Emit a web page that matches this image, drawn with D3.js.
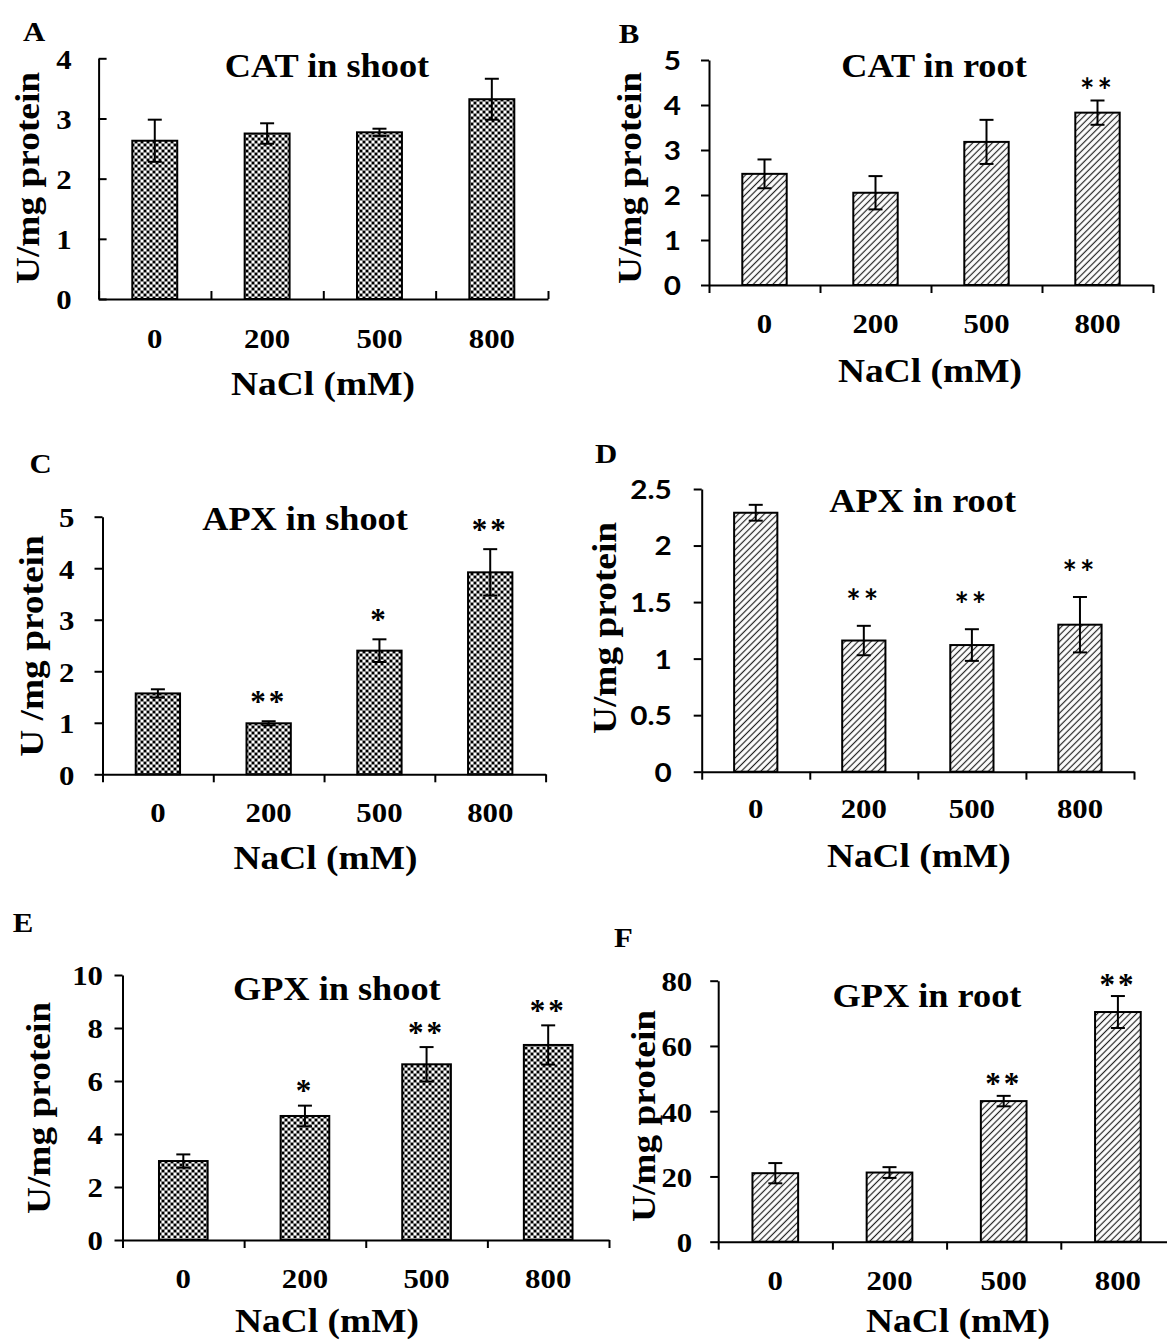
<!DOCTYPE html>
<html>
<head>
<meta charset="utf-8">
<script src="https://cdn.jsdelivr.net/npm/d3@7"></script>
<style>
body { margin: 0; background: #fff; }
svg text { font-weight: bold; fill: #000; }
</style>
</head>
<body>
<svg id="fig" width="1167" height="1342"></svg>
<script>
"use strict";

// NaCl concentrations (mM)
var categories = ["0", "200", "500", "800"];

// CAT activity
var catShootMean = [2.63, 2.75, 2.77, 3.32];
var catShootErr = [0.35, 0.17, 0.06, 0.34];
var catShootStars = ["", "", "", ""];
var catRootMean = [2.47, 2.05, 3.18, 3.83];
var catRootErr = [0.32, 0.37, 0.49, 0.27];
var catRootStars = ["", "", "", "**"];

// APX activity
var apxShootMean = [1.57, 0.99, 2.40, 3.92];
var apxShootErr = [0.08, 0.04, 0.22, 0.45];
var apxShootStars = ["", "**", "*", "**"];
var apxRootMean = [2.29, 1.16, 1.12, 1.30];
var apxRootErr = [0.07, 0.13, 0.14, 0.245];
var apxRootStars = ["", "**", "**", "**"];

// GPX activity
var gpxShootMean = [2.98, 4.68, 6.63, 7.36];
var gpxShootErr = [0.25, 0.39, 0.65, 0.74];
var gpxShootStars = ["", "*", "**", "**"];
var gpxRootMean = [21.0, 21.2, 43.1, 70.4];
var gpxRootErr = [3.1, 1.65, 1.6, 4.9];
var gpxRootStars = ["", "", "**", "**"];

// y tick values
var ticksA = [0, 1, 2, 3, 4];
var ticksB = [0, 1, 2, 3, 4, 5];
var ticksC = [0, 1, 2, 3, 4, 5];
var ticksD = [0, 0.5, 1, 1.5, 2, 2.5];
var ticksE = [0, 2, 4, 6, 8, 10];
var ticksF = [0, 20, 40, 60, 80];

var SERIF = "'Liberation Serif', 'Times New Roman', serif";
var SANS = "Lato, Carlito, Calibri, sans-serif";
var STRETCH = 1.1; // the source figure's text is a little wider than plain Times

var panels = [
    { id: "A", title: "CAT in shoot", ylab: "U/mg protein", mean: catShootMean, err: catShootErr,
      stars: catShootStars, ticks: ticksA, pattern: "checker", tickFont: SERIF, tickIn: true,
      left: 98.6, right: 548, bottom: 299, top: 58.3, yGap: 27, xGap: 39,
      title_xy: [327, 65], xt_xy: [323, 383], yt_xy: [27, 178], id_xy: [34, 31], starGap: 20, starFont: SERIF },
    { id: "B", title: "CAT in root", ylab: "U/mg protein", mean: catRootMean, err: catRootErr,
      stars: catRootStars, ticks: ticksB, pattern: "hatch", tickFont: SANS, tickIn: false,
      left: 709, right: 1153, bottom: 285, top: 60, yGap: 28, xGap: 38,
      title_xy: [934, 65], xt_xy: [930, 370], yt_xy: [629, 178], id_xy: [629, 33], starGap: 13, starFont: SANS },
    { id: "C", title: "APX in shoot", ylab: "U /mg protein", mean: apxShootMean, err: apxShootErr,
      stars: apxShootStars, ticks: ticksC, pattern: "checker", tickFont: SERIF, tickIn: false,
      left: 102.5, right: 545.6, bottom: 774.3, top: 516.7, yGap: 28, xGap: 38,
      title_xy: [305, 518], xt_xy: [325.5, 857], yt_xy: [31.4, 646], id_xy: [40.7, 463], starGap: 24, starFont: SERIF },
    { id: "D", title: "APX in root", ylab: "U/mg protein", mean: apxRootMean, err: apxRootErr,
      stars: apxRootStars, ticks: ticksD, pattern: "hatch", tickFont: SANS, tickIn: false,
      left: 701.7, right: 1134, bottom: 771.7, top: 489, yGap: 30, xGap: 36,
      title_xy: [922.6, 500], xt_xy: [918.8, 855], yt_xy: [604.3, 628], id_xy: [606, 453], starGap: 28, starFont: SANS },
    { id: "E", title: "GPX in shoot", ylab: "U/mg protein", mean: gpxShootMean, err: gpxShootErr,
      stars: gpxShootStars, ticks: ticksE, pattern: "checker", tickFont: SERIF, tickIn: false,
      left: 122.5, right: 609, bottom: 1240, top: 975, yGap: 19.5, xGap: 38,
      title_xy: [336.8, 988], xt_xy: [327, 1320], yt_xy: [38, 1108], id_xy: [23, 922], starGap: 19, starFont: SERIF },
    { id: "F", title: "GPX in root", ylab: "U/mg protein", mean: gpxRootMean, err: gpxRootErr,
      stars: gpxRootStars, ticks: ticksF, pattern: "hatch", tickFont: SERIF, tickIn: false,
      left: 718.2, right: 1175, bottom: 1241.7, top: 980.7, yGap: 26, xGap: 38,
      title_xy: [927, 995], xt_xy: [958, 1320], yt_xy: [643.4, 1116], id_xy: [623.5, 937], starGap: 16, starFont: SERIF }
];

var svg = d3.select("#fig");
svg.append("rect").attr("width", 1167).attr("height", 1342).attr("fill", "#fff");

var defs = svg.append("defs");
var chk = defs.append("pattern").attr("id", "checker")
    .attr("patternUnits", "userSpaceOnUse").attr("width", 6).attr("height", 6);
chk.append("rect").attr("width", 6).attr("height", 6).attr("fill", "#8c8c8c");
chk.append("rect").attr("x", 0).attr("y", 0).attr("width", 2).attr("height", 2).attr("fill", "#000");
chk.append("rect").attr("x", 3).attr("y", 3).attr("width", 2).attr("height", 2).attr("fill", "#000");
chk.append("rect").attr("x", 3).attr("y", 0).attr("width", 2).attr("height", 2).attr("fill", "#fff");
chk.append("rect").attr("x", 0).attr("y", 3).attr("width", 2).attr("height", 2).attr("fill", "#fff");

var hatch = defs.append("pattern").attr("id", "hatch")
    .attr("patternUnits", "userSpaceOnUse").attr("width", 4.6).attr("height", 4.6)
    .attr("patternTransform", "rotate(45)");
hatch.append("rect").attr("width", 4.6).attr("height", 4.6).attr("fill", "#fff");
hatch.append("line").attr("x1", 2.3).attr("y1", 0).attr("x2", 2.3).attr("y2", 4.6)
    .attr("stroke", "#222").attr("stroke-width", 1.2);

function addText(g, x, y, str, size, font, rotate) {
    return g.append("text")
        .attr("transform", "translate(" + x + "," + y + ")" + (rotate ? " rotate(-90)" : "") +
              " scale(" + STRETCH + ",1)")
        .attr("text-anchor", "middle")
        .attr("dy", "0.35em")
        .style("font-family", font)
        .style("font-size", size + "px")
        .text(str);
}

function drawPanel(p) {
    var g = svg.append("g").attr("class", "panel-" + p.id);
    var x = d3.scaleBand().domain(categories).range([p.left, p.right])
        .paddingInner(0.6).paddingOuter(0.3);
    var xEdge = d3.scaleLinear().domain([0, categories.length]).range([p.left, p.right]);
    var y = d3.scaleLinear().domain([0, d3.max(p.ticks)]).range([p.bottom, p.top]);
    var cx = function (i) { return x(categories[i]) + x.bandwidth() / 2; };

    // bars
    g.selectAll("rect.bar").data(p.mean).enter().append("rect")
        .attr("class", "bar")
        .attr("x", function (d, i) { return x(categories[i]); })
        .attr("width", x.bandwidth())
        .attr("y", function (d) { return y(d); })
        .attr("height", function (d) { return y(0) - y(d); })
        .attr("fill", "url(#" + p.pattern + ")")
        .attr("stroke", "#000").attr("stroke-width", 2);

    // error bars
    var eb = g.selectAll("g.err").data(p.mean).enter().append("g").attr("class", "err");
    eb.append("line")
        .attr("x1", function (d, i) { return cx(i); })
        .attr("x2", function (d, i) { return cx(i); })
        .attr("y1", function (d, i) { return y(d - p.err[i]); })
        .attr("y2", function (d, i) { return y(d + p.err[i]); });
    eb.append("line")
        .attr("x1", function (d, i) { return cx(i) - 7; })
        .attr("x2", function (d, i) { return cx(i) + 7; })
        .attr("y1", function (d, i) { return y(d + p.err[i]); })
        .attr("y2", function (d, i) { return y(d + p.err[i]); });
    eb.append("line")
        .attr("x1", function (d, i) { return cx(i) - 7; })
        .attr("x2", function (d, i) { return cx(i) + 7; })
        .attr("y1", function (d, i) { return y(d - p.err[i]); })
        .attr("y2", function (d, i) { return y(d - p.err[i]); });
    eb.selectAll("line").attr("stroke", "#000").attr("stroke-width", 2);

    // significance stars
    var sSize = p.starFont === SANS ? 34 : 31;
    g.selectAll("text.star").data(p.stars).enter().append("text")
        .attr("class", "star")
        .attr("x", function (d, i) { return cx(i); })
        .attr("y", function (d, i) {
            return y(p.mean[i] + p.err[i]) - p.starGap + 0.47 * sSize;
        })
        .attr("text-anchor", "middle")
        .style("font-family", p.starFont)
        .style("font-size", sSize + "px")
        .style("letter-spacing", "3px")
        .text(function (d) { return d; });

    // y axis
    var tick = p.tickIn ? -8 : 8;
    var yAxis = d3.axisLeft(y).tickValues(p.ticks).tickSizeInner(tick).tickSizeOuter(0)
        .tickFormat(function (d) { return String(d); });
    var gy = g.append("g").attr("transform", "translate(" + p.left + ",0)").call(yAxis);
    gy.selectAll("text")
        .attr("x", null).attr("dy", "0.35em")
        .attr("transform", "translate(" + (-p.yGap) + ",0) scale(" + STRETCH + ",1)")
        .style("font-family", p.tickFont)
        .style("font-size", (p.tickFont === SANS ? 27 : 28) + "px");

    // x axis: ticks on category edges, labels on centres
    var xAxisTicks = d3.axisBottom(xEdge).tickValues(d3.range(categories.length + 1))
        .tickSizeInner(tick).tickSizeOuter(0).tickFormat("");
    g.append("g").attr("transform", "translate(0," + p.bottom + ")").call(xAxisTicks);
    var xAxisLabels = d3.axisBottom(x).tickSize(0);
    var gl = g.append("g").attr("transform", "translate(0," + p.bottom + ")").call(xAxisLabels);
    gl.select(".domain").remove();
    gl.selectAll("text")
        .attr("y", null).attr("dy", "0.35em")
        .attr("transform", "translate(0," + p.xGap + ") scale(" + STRETCH + ",1)")
        .style("font-family", SERIF).style("font-size", "28px");

    g.selectAll(".domain, .tick line").attr("stroke", "#000").attr("stroke-width", 2);
    g.selectAll(".tick text").attr("fill", "#000");

    // titles
    addText(g, p.title_xy[0], p.title_xy[1], p.title, 33, SERIF, false);
    addText(g, p.xt_xy[0], p.xt_xy[1], "NaCl (mM)", 34, SERIF, false);
    addText(g, p.yt_xy[0], p.yt_xy[1], p.ylab, 34, SERIF, true);
    addText(g, p.id_xy[0], p.id_xy[1], p.id, 28, SERIF, false);
}

panels.forEach(drawPanel);
</script>
</body>
</html>
